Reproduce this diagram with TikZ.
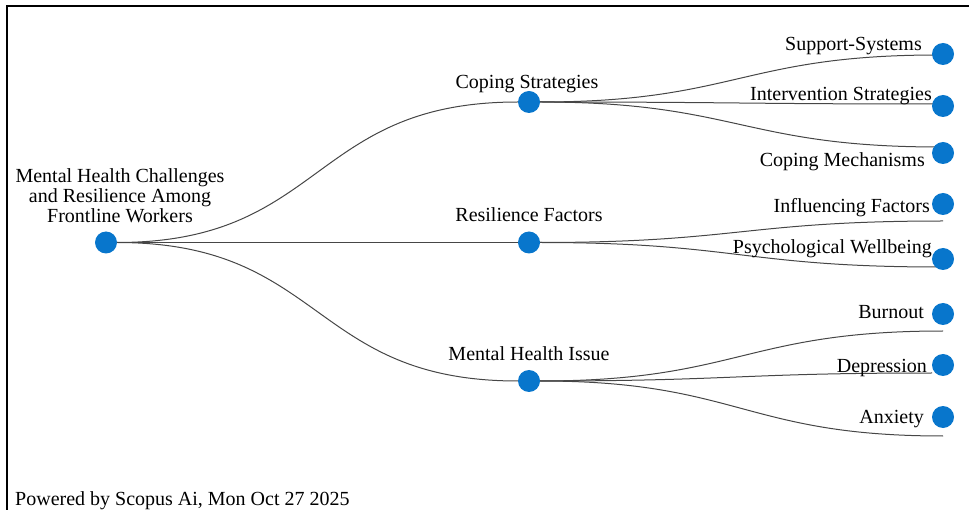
\documentclass[tikz,border=0pt]{standalone}
\usepackage{fontspec}
\setmainfont{Liberation Serif}
\usepackage{tikz}
\usetikzlibrary{backgrounds}

\definecolor{dotblue}{RGB}{8,118,204}
\definecolor{linegray}{RGB}{70,70,70}

\begin{document}
\begin{tikzpicture}[x=1pt,y=-1pt]
\tikzstyle{topicdot} = [circle, fill=dotblue, minimum size=22pt, inner sep=0pt]
\tikzstyle{lbl} = [inner sep=0pt, font=\fontsize{20}{20}\selectfont]
\tikzstyle{branch} = [draw=linegray, line width=1pt, out=0, in=180, looseness=1.25]
\useasboundingbox (0,0) rectangle (969,510);
% frame
\draw[line width=2pt] (7,510) |- (969,6);
% root
\node [topicdot] (root) at (106,242.5) {};
\node [lbl, align=center, anchor=base] (rootlbl) at (120,223)
  {Mental Health Challenges\\and Resilience Among\\Frontline Workers};
% level 1
\node [topicdot] (coping) at (529,102) {};
\node [topicdot] (resil) at (529,242.5) {};
\node [topicdot] (issue) at (529,381) {};
\node [lbl, anchor=base] (copinglbl) at (527,89) {Coping Strategies};
\node [lbl, anchor=base] (resillbl) at (529,222) {Resilience Factors};
\node [lbl, anchor=base] (issuelbl) at (529,361) {Mental Health Issue};
% level 2
\node [topicdot] (support) at (943,54) {};
\node [topicdot] (interv) at (943,106) {};
\node [topicdot] (mechan) at (943,153) {};
\node [topicdot] (influen) at (943,204) {};
\node [topicdot] (wellb) at (943,259) {};
\node [topicdot] (burnout) at (943,314) {};
\node [topicdot] (depress) at (943,365) {};
\node [topicdot] (anxiety) at (943,417) {};
\node [lbl, anchor=base east] (supportlbl) at (922,51) {Support-Systems};
\node [lbl, anchor=base east] (intervlbl) at (932,101) {Intervention Strategies};
\node [lbl, anchor=base east] (mechanlbl) at (925,167) {Coping Mechanisms};
\node [lbl, anchor=base east] (influenlbl) at (930,213) {Influencing Factors};
\node [lbl, anchor=base east] (wellblbl) at (932,254) {Psychological Wellbeing};
\node [lbl, anchor=base east] (burnoutlbl) at (924,319) {Burnout};
\node [lbl, anchor=base east] (depresslbl) at (927,373) {Depression};
\node [lbl, anchor=base east] (anxietylbl) at (924,423) {Anxiety};
% loose ends of the links
\coordinate (supportend) at (938,55);
\coordinate (intervend) at (938,104);
\coordinate (mechanend) at (940,147);
\coordinate (influenend) at (943,221);
\coordinate (wellbend) at (940,267);
\coordinate (burnoutend) at (943,331);
\coordinate (depressend) at (932,373);
\coordinate (anxietyend) at (943,436);
\node [lbl, anchor=base west] (footer) at (15,505) {Powered by Scopus Ai, Mon Oct 27 2025};

\begin{scope}[on background layer]
\draw [branch] (root) to (coping);
\draw [branch] (root) to (resil);
\draw [branch] (root) to (issue);
\draw [branch] (coping) to (supportend);
\draw [branch] (coping) to (intervend);
\draw [branch] (coping) to (mechanend);
\draw [branch] (resil) to (influenend);
\draw [branch] (resil) to (wellbend);
\draw [branch] (issue) to (burnoutend);
\draw [branch] (issue) to (depressend);
\draw [branch] (issue) to (anxietyend);
\end{scope}
\end{tikzpicture}
\end{document}
